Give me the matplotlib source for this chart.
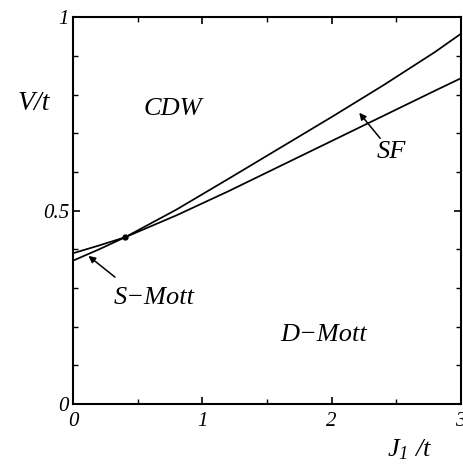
import matplotlib
matplotlib.use('Agg')
import matplotlib.pyplot as plt
from matplotlib.ticker import MultipleLocator

plt.rcParams['font.family'] = ['Liberation Serif', 'DejaVu Serif']
plt.rcParams['font.style'] = 'italic'
plt.rcParams['mathtext.fontset'] = 'custom'
plt.rcParams['mathtext.it'] = 'Liberation Serif:italic'
plt.rcParams['mathtext.rm'] = 'Liberation Serif'

# phase boundaries
J = [0.0, 0.2, 0.4, 0.8, 1.2, 1.6, 2.0, 2.4, 2.8, 3.0]
V_cdw = [0.371, 0.400, 0.431, 0.503, 0.582, 0.662, 0.742, 0.824, 0.910, 0.957]
V_mott = [0.390, 0.410, 0.431, 0.488, 0.550, 0.615, 0.680, 0.745, 0.810, 0.842]
J_cross = [0.40]
V_cross = [0.431]

fig = plt.figure(figsize=(4.64, 4.66), dpi=100)
ax = fig.add_axes([0.158, 0.133, 0.835, 0.830])

ax.plot(J, V_cdw, color='black', lw=1.25)
ax.plot(J, V_mott, color='black', lw=1.25)
ax.plot(J_cross, V_cross, 'o', color='black', ms=3.5)

ax.set_xlim(0, 3)
ax.set_ylim(0, 1)
ax.xaxis.set_major_locator(MultipleLocator(1))
ax.xaxis.set_minor_locator(MultipleLocator(0.5))
ax.yaxis.set_major_locator(MultipleLocator(0.5))
ax.yaxis.set_minor_locator(MultipleLocator(0.1))
ax.set_xticks([0, 1, 2, 3])
ax.set_xticklabels(['0', '1', '2', '3'])
ax.set_yticks([0, 0.5, 1])
ax.set_yticklabels(['0', '0.5', '1'])
ax.tick_params(which='both', direction='in', top=True, right=True, labelsize=15)
ax.tick_params(which='major', length=5, width=1.2)
ax.tick_params(which='minor', length=3.5, width=1.0)
ax.tick_params(axis='x', pad=6)
ax.tick_params(axis='y', pad=3)
for s in ax.spines.values():
    s.set_linewidth(1.5)

ax.text(-0.101, 0.776, 'V/t', transform=ax.transAxes, fontsize=20,
        ha='center', va='center')
ax.text(0.869, -0.118, '$J_{\\rm 1}$ /$t$', transform=ax.transAxes, fontsize=19,
        ha='center', va='center')

ax.text(0.77, 0.763, 'CDW', fontsize=19, ha='center', va='center')
ax.text(2.46, 0.652, 'SF', fontsize=19, ha='center', va='center')
ax.text(0.625, 0.274, 'S\u2212Mott', fontsize=19, ha='center', va='center')
ax.text(1.94, 0.178, 'D\u2212Mott', fontsize=19, ha='center', va='center')

arrow = dict(arrowstyle='-|>', color='black', lw=1.1, mutation_scale=10,
             shrinkA=0, shrinkB=0)
ax.annotate('', xy=(2.214, 0.753), xytext=(2.376, 0.687), arrowprops=arrow)
ax.annotate('', xy=(0.117, 0.383), xytext=(0.323, 0.328), arrowprops=arrow)

fig.savefig('out.png', dpi=100)
